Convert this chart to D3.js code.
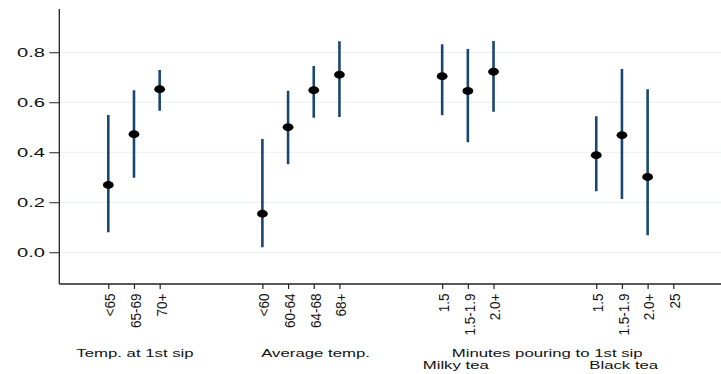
<!DOCTYPE html>
<html>
<head>
<meta charset="utf-8">
<script src="https://cdn.jsdelivr.net/npm/d3@7"></script>
<style>
  html, body { margin: 0; padding: 0; background: #fff; }
  svg { display: block; }
  text { font-family: "Liberation Sans", Arial, sans-serif; fill: #111; }
</style>
</head>
<body>
<svg id="chart" width="721" height="374"></svg>
<script>
// Category labels along the x axis and their slot on the axis
const categories = ["<65", "65-69", "70+", "<60", "60-64", "64-68", "68+",
                    "1.5", "1.5-1.9", "2.0+", "1.5", "1.5-1.9", "2.0+", "25"];
const slots = [1, 2, 3, 7, 8, 9, 10, 14, 15, 16, 20, 21, 22, 23];

// Point estimates and 95% confidence bounds (null = no estimate)
const estimate = [0.269, 0.472, 0.652, 0.154, 0.500, 0.648, 0.710,
                  0.704, 0.645, 0.722, 0.388, 0.468, 0.301, null];
const lower    = [0.080, 0.298, 0.566, 0.020, 0.352, 0.538, 0.541,
                  0.548, 0.440, 0.562, 0.244, 0.213, 0.068, null];
const upper    = [0.549, 0.648, 0.729, 0.453, 0.646, 0.745, 0.844,
                  0.832, 0.813, 0.845, 0.544, 0.733, 0.652, null];

// Y axis ticks
const yTicks = [0, 0.2, 0.4, 0.6, 0.8];

// Group captions under the axis: text, axis position, row
const captions = [
  { text: "Temp. at 1st sip", at: 2.04, row: 0 },
  { text: "Average temp.", at: 9.07, row: 0 },
  { text: "Minutes pouring to 1st sip", at: 18.09, row: 0 },
  { text: "Milky tea", at: 14.53, row: 1 },
  { text: "Black tea", at: 21.07, row: 1 }
];

(function () {
  const svg = d3.select("#chart");
  const plotLeft = 59.3, plotRight = 721, plotTop = 9, plotBottom = 284;

  const x = d3.scaleLinear().domain([1, 23]).range([108.3, 673.3]);
  const y = d3.scaleLinear().domain([-0.127, 0.973]).range([plotBottom, plotTop]);

  // Horizontal grid lines
  svg.append("g")
    .selectAll("line")
    .data(yTicks)
    .join("line")
    .attr("x1", plotLeft).attr("x2", plotRight)
    .attr("y1", d => y(d)).attr("y2", d => y(d))
    .attr("stroke", "#e6eff1").attr("stroke-width", 1.2);

  // Y axis
  const yAxis = svg.append("g").attr("transform", `translate(${plotLeft},0)`)
    .call(d3.axisLeft(y).tickValues(yTicks).tickSize(10).tickFormat(d3.format(".1f")));
  yAxis.select(".domain").remove();
  yAxis.selectAll(".tick line").attr("stroke", "#222").attr("stroke-width", 1);
  yAxis.selectAll(".tick text").remove();
  yAxis.selectAll(".tick").append("g")
    .attr("transform", "translate(-14.3,0) scale(1.55,1)")
    .append("text")
    .attr("text-anchor", "end")
    .attr("dy", "0.36em")
    .style("font-size", "13px")
    .text(d => d3.format(".1f")(d));

  svg.append("line")
    .attr("x1", plotLeft).attr("x2", plotLeft).attr("y1", plotTop).attr("y2", plotBottom)
    .attr("stroke", "#222").attr("stroke-width", 1.3);

  // X axis with rotated category labels
  const xAxis = svg.append("g").attr("transform", `translate(0,${plotBottom})`)
    .call(d3.axisBottom(x).tickValues(slots).tickSize(5).tickFormat((d, i) => categories[i]));
  xAxis.select(".domain").remove();
  xAxis.selectAll(".tick line").attr("stroke", "#222").attr("stroke-width", 1.2);
  xAxis.selectAll(".tick text")
    .attr("transform", "translate(1.2,9.5) rotate(-90) scale(1.04,1.1)")
    .attr("x", 0).attr("y", 0)
    .attr("dy", "0.36em")
    .attr("text-anchor", "end")
    .style("font-size", "13px")
    .style("fill", "#111");

  svg.append("line")
    .attr("x1", plotLeft).attr("x2", plotRight).attr("y1", plotBottom).attr("y2", plotBottom)
    .attr("stroke", "#222").attr("stroke-width", 1.3);

  // Confidence intervals and point estimates
  const rows = slots.map((s, i) => ({ s, est: estimate[i], lo: lower[i], hi: upper[i] }))
    .filter(d => d.est !== null);

  svg.append("g")
    .selectAll("line")
    .data(rows)
    .join("line")
    .attr("x1", d => x(d.s)).attr("x2", d => x(d.s))
    .attr("y1", d => y(d.lo)).attr("y2", d => y(d.hi))
    .attr("stroke", "#1a476f").attr("stroke-width", 2.6);

  svg.append("g")
    .selectAll("ellipse")
    .data(rows)
    .join("ellipse")
    .attr("cx", d => x(d.s)).attr("cy", d => y(d.est))
    .attr("rx", 5.4).attr("ry", 3.9)
    .attr("fill", "#000");

  // Group captions
  svg.append("g")
    .selectAll("g")
    .data(captions)
    .join("g")
    .attr("transform", d => `translate(${x(d.at)},${d.row ? 369.3 : 357}) scale(1.42,1)`)
    .append("text")
    .attr("text-anchor", "middle")
    .style("font-size", "11.8px")
    .text(d => d.text);
})();
</script>
</body>
</html>
